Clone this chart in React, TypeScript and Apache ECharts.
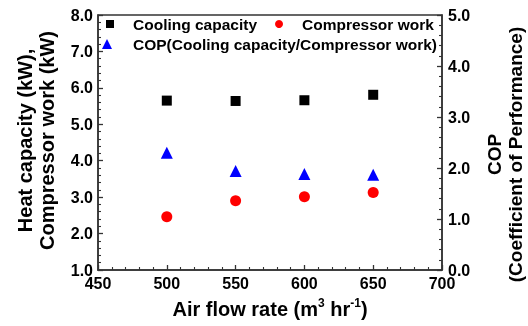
import React, { useEffect, useRef } from 'react';
import * as echarts from 'echarts';

const airFlow = [500, 550, 600, 650];
const coolingCapacity = [5.65, 5.64, 5.66, 5.81];
const compressorWork = [2.46, 2.9, 3.01, 3.13];
const copValues = [2.3, 1.94, 1.88, 1.87];
const seriesNames = ['Cooling capacity', 'Compressor work', 'COP(Cooling capacity/Compressor work)'];
const xTitle = '{a|Air flow rate (m}{s|3}{a| hr}{s|-1}{a|)}';
const leftTitle = 'Heat capacity (kW),\nCompressor work (kW)';
const rightTitle = 'COP\n(Coefficient of Performance)';

const font = "'Liberation Sans', Arial, Helvetica, sans-serif";

export default function App() {
  const ref = useRef<HTMLDivElement>(null);
  useEffect(() => {
    const chart = echarts.init(ref.current as HTMLDivElement, null, { renderer: 'svg' });
    const lineColor = '#333';
    const axisLine = { show: true, onZero: false, lineStyle: { color: lineColor, width: 1.5 } };
    const axisTick = { show: true, inside: true, length: 5, lineStyle: { color: lineColor, width: 1.3 } };
    const minorTick = { show: true, splitNumber: 5, length: 3, lineStyle: { color: lineColor, width: 1.1 } };
    const axisLabel = {
      fontFamily: font,
      fontSize: 16,
      fontWeight: 'bold' as const,
      color: '#000',
      margin: 5,
    };
    const nameStyle = {
      fontFamily: font,
      fontSize: 20,
      fontWeight: 'bold' as const,
      color: '#000',
      lineHeight: 22,
    };
    const legendText = { fontFamily: font, fontSize: 15.5, fontWeight: 'bold' as const, color: '#000' };
    const pairs = (ys: number[]) => airFlow.map((x, i) => [x, ys[i]]);
    const option: any = {
      animation: false,
      grid: {
        left: 98,
        right: 86,
        top: 15,
        bottom: 56,
        outerBoundsMode: 'none',
        containLabel: false,
        show: true,
        borderColor: lineColor,
        borderWidth: 1.5,
        backgroundColor: 'transparent',
      },
      legend: [
        {
          data: [seriesNames[0], seriesNames[1]],
          left: 106,
          top: 16,
          padding: 0,
          itemWidth: 8,
          itemHeight: 8,
          itemGap: 18,
          textStyle: { ...legendText, padding: [0, 0, 0, 14] },
        },
        {
          data: [seriesNames[2]],
          left: 102,
          top: 36,
          padding: 0,
          itemWidth: 10,
          itemHeight: 10,
          textStyle: { ...legendText, padding: [0, 0, 0, 16] },
        },
      ],
      xAxis: {
        type: 'value',
        min: 450,
        max: 700,
        interval: 50,
        axisLine,
        axisTick,
        minorTick,
        splitLine: { show: false },
        minorSplitLine: { show: false },
        axisLabel,
        name: xTitle,
        nameLocation: 'middle',
        nameGap: 27,
        nameTextStyle: {
          ...nameStyle,
          rich: {
            a: { fontFamily: font, fontSize: 20, fontWeight: 'bold', color: '#000', lineHeight: 24 },
            s: { fontFamily: font, fontSize: 12, fontWeight: 'bold', color: '#000', verticalAlign: 'top', lineHeight: 14 },
          },
        },
      },
      yAxis: [
        {
          type: 'value',
          position: 'left',
          min: 1,
          max: 8,
          interval: 1,
          axisLine,
          axisTick,
          minorTick,
          splitLine: { show: false },
          minorSplitLine: { show: false },
          axisLabel: { ...axisLabel, formatter: (v: number) => v.toFixed(1) },
          name: leftTitle,
          nameLocation: 'middle',
          nameRotate: 90,
          nameGap: 40,
          nameTextStyle: { ...nameStyle, padding: [0, 0, 0, 4] },
        },
        {
          type: 'value',
          position: 'right',
          min: 0,
          max: 5,
          interval: 1,
          axisLine,
          axisTick,
          minorTick,
          splitLine: { show: false },
          minorSplitLine: { show: false },
          axisLabel: { ...axisLabel, margin: 6, formatter: (v: number) => v.toFixed(1) },
          name: rightTitle,
          nameLocation: 'middle',
          nameRotate: 90,
          nameGap: 42,
          nameTextStyle: { ...nameStyle, fontSize: 19, lineHeight: 21, padding: [0, 24, 0, 0] },
        },
      ],
      series: [
        {
          name: seriesNames[0],
          type: 'scatter',
          yAxisIndex: 0,
          symbol: 'rect',
          symbolSize: 10,
          itemStyle: { color: '#000', opacity: 1 },
          data: pairs(coolingCapacity),
        },
        {
          name: seriesNames[1],
          type: 'scatter',
          yAxisIndex: 0,
          symbol: 'circle',
          symbolSize: 11,
          itemStyle: { color: '#ff0000', opacity: 1 },
          data: pairs(compressorWork),
        },
        {
          name: seriesNames[2],
          type: 'scatter',
          yAxisIndex: 1,
          symbol: 'triangle',
          symbolSize: 12,
          itemStyle: { color: '#0000ff', opacity: 1 },
          data: pairs(copValues),
        },
      ],
    };
    chart.setOption(option);
    return () => chart.dispose();
  }, []);
  return <div ref={ref} style={{ position: 'fixed', left: 0, top: 0, width: 528, height: 326 }} />;
}
